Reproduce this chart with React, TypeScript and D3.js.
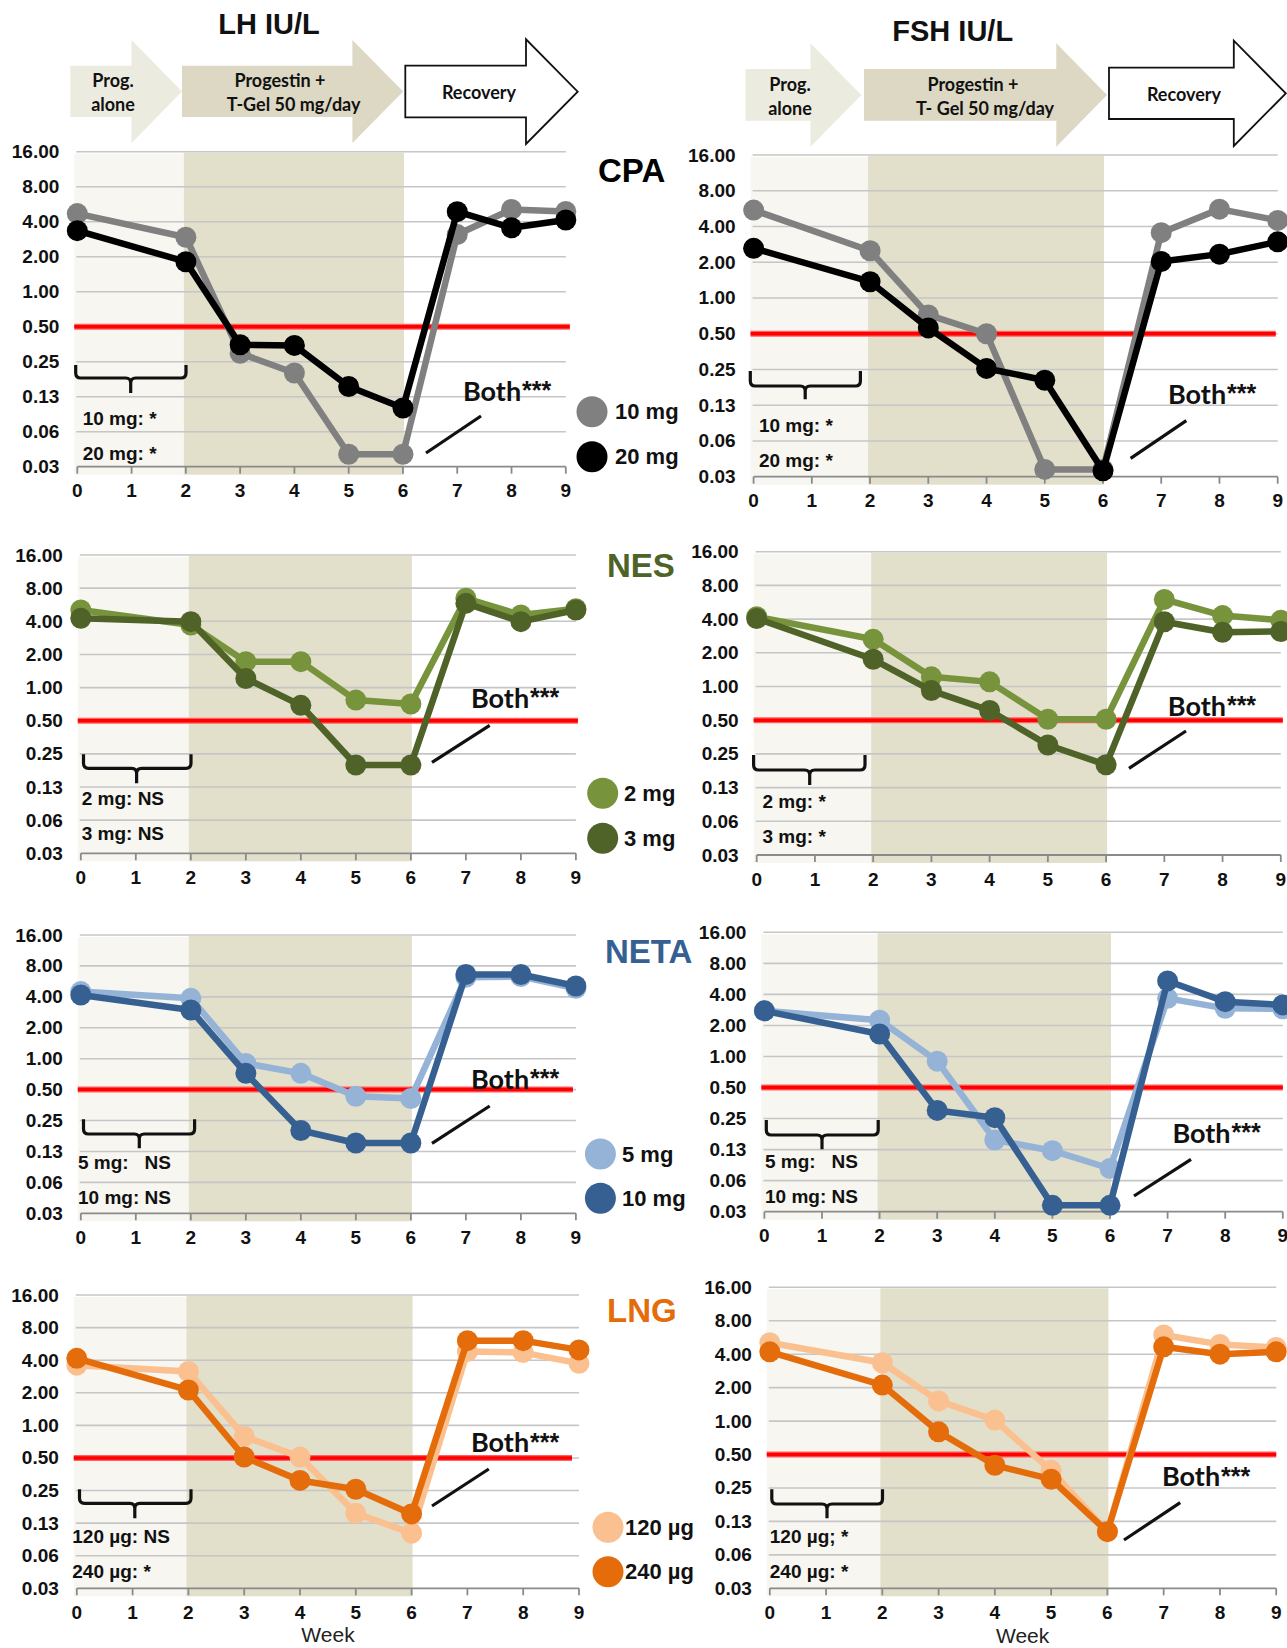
import React from "react";
import * as d3 from "d3";

// ---------- data ----------
const WEEKS = [0, 2, 3, 4, 5, 6, 7, 8, 9];
const X_TICKS = [0, 1, 2, 3, 4, 5, 6, 7, 8, 9];
const Y_TICKS = [0.03125, 0.0625, 0.125, 0.25, 0.5, 1, 2, 4, 8, 16];
const Y_TICK_LABELS = ["0.03", "0.06", "0.13", "0.25", "0.50", "1.00", "2.00", "4.00", "8.00", "16.00"];
const THRESHOLD = 0.5;

const LH_CPA_10 = [4.7, 2.94, 0.295, 0.2, 0.04, 0.04, 3.1, 5.1, 4.9];
const LH_CPA_20 = [3.35, 1.81, 0.35, 0.345, 0.153, 0.1, 4.88, 3.55, 4.14];
const FSH_CPA_10 = [5.5, 2.5, 0.72, 0.5, 0.036, 0.036, 3.55, 5.6, 4.5];
const FSH_CPA_20 = [2.62, 1.37, 0.56, 0.255, 0.203, 0.035, 2.03, 2.34, 2.97];
const LH_NES_2 = [5.07, 3.7, 1.72, 1.72, 0.77, 0.71, 6.47, 4.56, 5.2];
const LH_NES_3 = [4.26, 3.97, 1.21, 0.69, 0.198, 0.198, 5.82, 3.97, 5.07];
const FSH_NES_2 = [4.2, 2.64, 1.22, 1.1, 0.51, 0.51, 6.0, 4.3, 3.9];
const FSH_NES_3 = [4.05, 1.75, 0.92, 0.61, 0.3, 0.2, 3.79, 3.05, 3.1];
const LH_NETA_5 = [4.5, 3.87, 0.9, 0.72, 0.43, 0.41, 6.2, 6.3, 4.85];
const LH_NETA_10 = [4.17, 2.98, 0.72, 0.2, 0.151, 0.151, 6.6, 6.6, 5.1];
const FSH_NETA_5 = [2.77, 2.25, 0.9, 0.155, 0.122, 0.082, 3.66, 2.93, 2.9];
const FSH_NETA_10 = [2.77, 1.65, 0.3, 0.255, 0.036, 0.036, 5.4, 3.4, 3.16];
const LH_LNG_120 = [3.6, 3.14, 0.79, 0.51, 0.154, 0.101, 4.8, 4.7, 3.74];
const LH_LNG_240 = [4.16, 2.12, 0.51, 0.31, 0.257, 0.152, 6.06, 6.06, 4.98];
const FSH_LNG_120 = [5.07, 3.35, 1.52, 1.02, 0.36, 0.101, 5.95, 4.9, 4.6];
const FSH_LNG_240 = [4.2, 2.11, 0.8, 0.4, 0.3, 0.101, 4.66, 4.0, 4.2];

const LEGEND_CPA = ["10 mg", "20 mg"];
const LEGEND_NES = ["2 mg", "3 mg"];
const LEGEND_NETA = ["5 mg", "10 mg"];
const LEGEND_LNG = ["120 µg", "240 µg"];
const STATS_LH_CPA = ["10 mg: *", "20 mg: *"];
const STATS_FSH_CPA = ["10 mg: *", "20 mg: *"];
const STATS_LH_NES = ["2 mg: NS", "3 mg: NS"];
const STATS_FSH_NES = ["2 mg: *", "3 mg: *"];
const STATS_LH_NETA = ["5 mg:   NS", "10 mg: NS"];
const STATS_FSH_NETA = ["5 mg:   NS", "10 mg: NS"];
const STATS_LH_LNG = ["120 µg: NS", "240 µg: *"];
const STATS_FSH_LNG = ["120 µg; *", "240 µg: *"];
const BOTH_WORD = "Both";
const BOTH_STARS = "***";
const TITLES = ["LH IU/L", "FSH IU/L"];
const PHASES_LH = [["Prog.", "alone"], ["Progestin +", "T-Gel 50 mg/day"], ["Recovery"]];
const PHASES_FSH = [["Prog.", "alone"], ["Progestin +", "T- Gel 50 mg/day"], ["Recovery"]];
const X_TITLE = "Week";

// ---------- styles ----------
const ARIAL = "'Liberation Sans', Arial, Helvetica, sans-serif";
const CALIBRI = "Lato, 'Open Sans', sans-serif";
const COLORS: Record<string, [string, string]> = {
  CPA: ["#808080", "#000000"],
  NES: ["#77933c", "#4f6228"],
  NETA: ["#95b3d7", "#376092"],
  LNG: ["#fac090", "#e46c0a"],
};
const LABEL_COLORS: Record<string, string> = {
  CPA: "#000000",
  NES: "#4f6228",
  NETA: "#376092",
  LNG: "#e46c0a",
};

type Cfg = {
  x0: number; x9: number; yt: number; yb: number;
  a: number[]; b: number[]; drug: string; stats: string[];
  both: [number, number]; slash: [number, number, number, number];
  br: [number, number, number, number, number, number];
  statX: number; statY: [number, number];
  legend?: { cx: number; ys: [number, number]; tx: number; labels: string[] };
  label?: [number, number];
  week?: [number, number];
  redEnd?: number;
};

const PANELS: Cfg[] = [
  {
    x0: 77.3, x9: 565.8, yt: 151.7, yb: 466.7, a: LH_CPA_10, b: LH_CPA_20, drug: "CPA", stats: STATS_LH_CPA,
    both: [463, 390], slash: [426, 453, 481, 416], br: [75.7, 186, 365, 378, 130.7, 393],
    statX: 82.7, statY: [418, 453], legend: { cx: 592, ys: [411.7, 456.7], tx: 615, labels: LEGEND_CPA },
    label: [598, 170], redEnd: 4,
  },
  {
    x0: 753.6, x9: 1277.7, yt: 155, yb: 476.7, a: FSH_CPA_10, b: FSH_CPA_20, drug: "CPA", stats: STATS_FSH_CPA,
    both: [1168, 393.3], slash: [1130.6, 458.3, 1186.3, 420.7], br: [750.3, 860.4, 371, 386, 805.2, 399.3],
    statX: 758.9, statY: [425, 460], redEnd: -2,
  },
  {
    x0: 80.8, x9: 575.9, yt: 555, yb: 853.3, a: LH_NES_2, b: LH_NES_3, drug: "NES", stats: STATS_LH_NES,
    both: [471, 697], slash: [432, 762.3, 489.7, 725.3], br: [83.5, 191, 754.3, 768.3, 136.6, 783.3],
    statX: 81.7, statY: [798.3, 833.3], legend: { cx: 602.7, ys: [793.3, 838.3], tx: 624, labels: LEGEND_NES },
    label: [607, 565], redEnd: 2,
  },
  {
    x0: 756.7, x9: 1280.8, yt: 551.7, yb: 855, a: FSH_NES_2, b: FSH_NES_3, drug: "NES", stats: STATS_FSH_NES,
    both: [1167.8, 705], slash: [1129, 768.3, 1186, 731], br: [753.6, 865, 755, 770, 809.7, 785],
    statX: 762.5, statY: [801.7, 836], redEnd: 2,
  },
  {
    x0: 80.8, x9: 575.9, yt: 935, yb: 1213.3, a: LH_NETA_5, b: LH_NETA_10, drug: "NETA", stats: STATS_LH_NETA,
    both: [471, 1078.3], slash: [432, 1143.3, 489.7, 1106], br: [83.5, 194.6, 1119.3, 1134, 139.3, 1148.3],
    statX: 78, statY: [1162.7, 1197.3], legend: { cx: 600.4, ys: [1154, 1198.3], tx: 622, labels: LEGEND_NETA },
    label: [605, 951.7], redEnd: -3,
  },
  {
    x0: 764.4, x9: 1282.8, yt: 932.3, yb: 1211.7, a: FSH_NETA_5, b: FSH_NETA_10, drug: "NETA", stats: STATS_FSH_NETA,
    both: [1172.4, 1132.3], slash: [1134, 1196, 1191, 1159.3], br: [766.3, 878.2, 1120, 1135, 822, 1149.3],
    statX: 765, statY: [1161, 1196], redEnd: 0,
  },
  {
    x0: 76.8, x9: 579, yt: 1295, yb: 1588.3, a: LH_LNG_120, b: LH_LNG_240, drug: "LNG", stats: STATS_LH_LNG,
    both: [471, 1441.7], slash: [432, 1506, 488.8, 1469], br: [79.5, 191, 1489.3, 1503.3, 134.8, 1518.3],
    statX: 72.3, statY: [1536.7, 1571.7], legend: { cx: 608, ys: [1527.3, 1571.7], tx: 625, labels: LEGEND_LNG },
    label: [607, 1310.7], week: [328, 1634.5], redEnd: -7,
  },
  {
    x0: 769.8, x9: 1276.2, yt: 1287.3, yb: 1588.3, a: FSH_LNG_120, b: FSH_LNG_240, drug: "LNG", stats: STATS_FSH_LNG,
    both: [1162, 1475.7], slash: [1124, 1540, 1180.2, 1502.7], br: [771.8, 882.5, 1489.3, 1504, 827, 1518.3],
    statX: 769.8, statY: [1536, 1571.7], week: [1022.6, 1635], redEnd: 0,
  },
];

function bracketPath(l: number, r: number, top: number, h: number, cx: number, tip: number) {
  const c = 5;
  return `M${l},${top} L${l},${h - c} Q${l},${h} ${l + c},${h} L${cx - c},${h} Q${cx},${h} ${cx},${h + c} L${cx},${tip} M${cx},${h + c} Q${cx},${h} ${cx + c},${h} L${r - c},${h} Q${r},${h} ${r},${h - c} L${r},${top}`;
}

function Panel({ cfg }: { cfg: Cfg }) {
  const x = d3.scaleLinear().domain([0, 9]).range([cfg.x0, cfg.x9]);
  const y = d3.scaleLog().base(2).domain([Y_TICKS[0], Y_TICKS[Y_TICKS.length - 1]]).range([cfg.yb, cfg.yt]);
  const line = d3
    .line<number>()
    .x((_, i) => x(WEEKS[i]))
    .y((d) => y(d));
  const [ca, cb] = COLORS[cfg.drug];
  const series = [
    { vals: cfg.a, color: ca },
    { vals: cfg.b, color: cb },
  ];
  const bottomPad = 6;
  return (
    <g>
      <rect x={cfg.x0 - 3} y={cfg.yt + 2} width={x(2) - 2 - (cfg.x0 - 3)} height={cfg.yb - cfg.yt + bottomPad} fill="#f7f6f0" />
      <rect x={x(2) - 2} y={cfg.yt + 1} width={x(6) + 1 - (x(2) - 2)} height={cfg.yb - cfg.yt + bottomPad + 1} fill="#e2dfcb" />
      {Y_TICKS.map((t, i) => (
        <g key={i}>
          {i > 0 && (
            <line x1={cfg.x0 - 1} x2={cfg.x9} y1={y(t)} y2={y(t)} stroke="#c6c6c6" strokeWidth={1.6} />
          )}
          <text
            x={cfg.x0 - 18}
            y={y(t)}
            textAnchor="end"
            dominantBaseline="central"
            fontFamily={ARIAL}
            fontWeight="bold"
            fontSize={19}
            fill="#111"
          >
            {Y_TICK_LABELS[i]}
          </text>
        </g>
      ))}
      <line x1={cfg.x0} x2={cfg.x9} y1={cfg.yb} y2={cfg.yb} stroke="#8a8a8a" strokeWidth={1.8} />
      {X_TICKS.map((t) => (
        <g key={t}>
          <line x1={x(t)} x2={x(t)} y1={cfg.yb} y2={cfg.yb + 7} stroke="#8a8a8a" strokeWidth={1.8} />
          <text
            x={x(t)}
            y={cfg.yb + 24}
            textAnchor="middle"
            dominantBaseline="central"
            fontFamily={ARIAL}
            fontWeight="bold"
            fontSize={19}
            fill="#111"
          >
            {t}
          </text>
        </g>
      ))}
      <line
        x1={cfg.x0 - 3}
        x2={cfg.x9 + (cfg.redEnd ?? 0)}
        y1={y(THRESHOLD)}
        y2={y(THRESHOLD)}
        stroke="#ff6060"
        strokeWidth={6}
      />
      <line
        x1={cfg.x0 - 3}
        x2={cfg.x9 + (cfg.redEnd ?? 0)}
        y1={y(THRESHOLD)}
        y2={y(THRESHOLD)}
        stroke="#ff0000"
        strokeWidth={3.5}
      />
      {series.map((s, si) => (
        <g key={si}>
          <path d={line(s.vals) || ""} fill="none" stroke={s.color} strokeWidth={6.5} strokeLinejoin="round" />
          {s.vals.map((v, i) => (
            <circle key={i} cx={x(WEEKS[i])} cy={y(v)} r={10.5} fill={s.color} />
          ))}
        </g>
      ))}
      <path d={bracketPath(...cfg.br)} fill="none" stroke="#111" strokeWidth={3.2} />
      {cfg.stats.map((s, i) => (
        <text
          key={i}
          x={cfg.statX}
          y={cfg.statY[i]}
          dominantBaseline="central"
          fontFamily={ARIAL}
          fontWeight="bold"
          fontSize={19}
          fill="#111"
          style={{ whiteSpace: "pre" }}
        >
          {s}
        </text>
      ))}
      <text
        x={cfg.both[0]}
        y={cfg.both[1]}
        dominantBaseline="central"
        fontFamily={CALIBRI}
        fontWeight="bold"
        fontSize={27}
        fill="#111"
      >
        {BOTH_WORD}
        <tspan fontFamily={ARIAL} fontSize={25} dx={1}>
          {BOTH_STARS}
        </tspan>
      </text>
      <line x1={cfg.slash[0]} y1={cfg.slash[1]} x2={cfg.slash[2]} y2={cfg.slash[3]} stroke="#111" strokeWidth={3.2} />
      {cfg.legend &&
        cfg.legend.ys.map((ly, i) => (
          <g key={i}>
            <circle cx={cfg.legend!.cx} cy={ly} r={15.5} fill={i === 0 ? ca : cb} />
            <text
              x={cfg.legend!.tx}
              y={ly}
              dominantBaseline="central"
              fontFamily={ARIAL}
              fontWeight="bold"
              fontSize={22}
              fill="#111"
            >
              {cfg.legend!.labels[i]}
            </text>
          </g>
        ))}
      {cfg.label && (
        <text
          x={cfg.label[0]}
          y={cfg.label[1]}
          dominantBaseline="central"
          fontFamily={ARIAL}
          fontWeight="bold"
          fontSize={33}
          fill={LABEL_COLORS[cfg.drug]}
        >
          {cfg.drug}
        </text>
      )}
      {cfg.week && (
        <text
          x={cfg.week[0]}
          y={cfg.week[1]}
          textAnchor="middle"
          dominantBaseline="central"
          fontFamily={ARIAL}
          fontSize={21}
          fill="#222"
        >
          {X_TITLE}
        </text>
      )}
    </g>
  );
}

type Arrow = { x1: number; x2: number; tip: number; by1: number; by2: number; hy1: number; hy2: number };

function arrowPts(a: Arrow) {
  const ty = (a.hy1 + a.hy2) / 2;
  return [
    [a.x1, a.by1],
    [a.x2, a.by1],
    [a.x2, a.hy1],
    [a.tip, ty],
    [a.x2, a.hy2],
    [a.x2, a.by2],
    [a.x1, a.by2],
  ]
    .map((p) => p.join(","))
    .join(" ");
}

const HEADERS = [
  {
    title: TITLES[0],
    titlePos: [269, 24],
    phases: PHASES_LH,
    arrows: [
      { x1: 70.3, x2: 131.5, tip: 182, by1: 65.7, by2: 117, hy1: 40, hy2: 143 },
      { x1: 182, x2: 352.4, tip: 403.2, by1: 65.7, by2: 117, hy1: 40, hy2: 143 },
      { x1: 405.3, x2: 526, tip: 577.7, by1: 65.7, by2: 117.3, hy1: 39.3, hy2: 144 },
    ],
    textPos: [
      [[113, 80], [113, 104]],
      [[280, 80], [293.6, 104]],
      [[479, 92]],
    ],
  },
  {
    title: TITLES[1],
    titlePos: [952.7, 31],
    phases: PHASES_FSH,
    arrows: [
      { x1: 745.5, x2: 810.5, tip: 861.3, by1: 69, by2: 120.7, hy1: 43.3, hy2: 146.7 },
      { x1: 864, x2: 1056.3, tip: 1107, by1: 69, by2: 120.7, hy1: 43.3, hy2: 146.7 },
      { x1: 1109, x2: 1233.8, tip: 1285.8, by1: 67.7, by2: 119, hy1: 40.7, hy2: 146 },
    ],
    textPos: [
      [[790, 84.3], [790, 107.7]],
      [[973, 84], [985, 108]],
      [[1184, 94.3]],
    ],
  },
];

const ARROW_FILLS = ["#ecebdf", "#dcd8c3", "#ffffff"];

export default function App() {
  return (
    <svg
      width={1287}
      height={1648}
      viewBox="0 0 1287 1648"
      style={{ position: "absolute", left: 0, top: 0, background: "#fff" }}
    >
      <rect x={0} y={0} width={1287} height={1648} fill="#fff" />
      {HEADERS.map((h, hi) => (
        <g key={hi}>
          <text
            x={h.titlePos[0]}
            y={h.titlePos[1]}
            textAnchor="middle"
            dominantBaseline="central"
            fontFamily={ARIAL}
            fontWeight="bold"
            fontSize={29}
            fill="#111"
          >
            {h.title}
          </text>
          {h.arrows.map((a, ai) => (
            <polygon
              key={ai}
              points={arrowPts(a)}
              fill={ARROW_FILLS[ai]}
              stroke={ai === 2 ? "#111" : "none"}
              strokeWidth={ai === 2 ? 1.8 : 0}
            />
          ))}
          {h.phases.map((lines, pi) =>
            lines.map((t, li) => (
              <text
                key={`${pi}-${li}`}
                x={h.textPos[pi][li][0]}
                y={h.textPos[pi][li][1]}
                textAnchor="middle"
                dominantBaseline="central"
                fontFamily={CALIBRI}
                fontWeight="bold"
                fontSize={18}
                fill="#111"
              >
                {t}
              </text>
            ))
          )}
        </g>
      ))}
      {PANELS.map((p, i) => (
        <Panel key={i} cfg={p} />
      ))}
    </svg>
  );
}
